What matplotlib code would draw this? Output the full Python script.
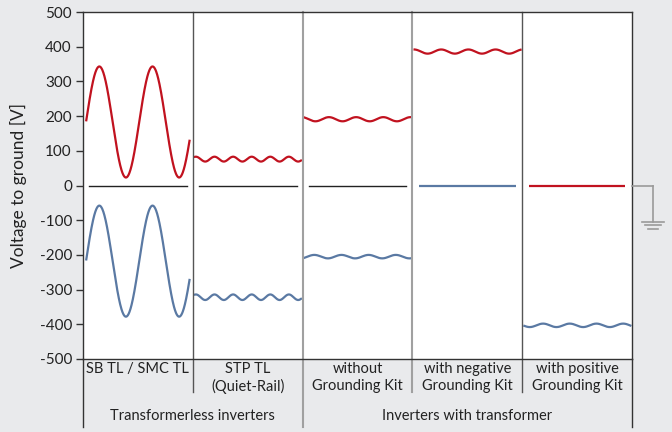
import numpy as np
import matplotlib
matplotlib.use("Agg")
import matplotlib.pyplot as plt

plt.rcParams['font.family'] = ['Lato', 'DejaVu Sans']

# ---- data ----
categories = ["SB TL / SMC TL", "STP TL\n(Quiet-Rail)", "without\nGrounding Kit",
              "with negative\nGrounding Kit", "with positive\nGrounding Kit"]
groups = ["Transformerless inverters", "Inverters with transformer"]
group_spans = [(0, 2), (2, 5)]

pos_offset = [183, 76, 191, 386, 0]      # V, positive pole mean
pos_ripple = [160, 7, 6, 6, 0]           # V, ripple amplitude
neg_offset = [-218, -322, -205, 0, -403] # V, negative pole mean
neg_ripple = [160, 8, 5, 0, 5]
cycles = [1.94, 5.7, 3.9, 3.9, 3.97]     # ripple cycles shown per panel
pos_phase = [-0.245, -0.05, 0.11, 0.02, 0.0]
neg_phase = [-0.245, -0.05, -0.35, 0.0, 0.3]
has_zero_line = [True, True, True, False, False]

yticks = list(range(-500, 501, 100))
ylabel = "Voltage to ground [V]"

RED = "#C1121F"
BLUE = "#5A79A3"
BLACK = "#222222"
BG = "#E9EAEC"

W, H = 672, 432
fig = plt.figure(figsize=(W / 100, H / 100), dpi=100, facecolor=BG)
L, R, T, B = 83, 632, 12, 359
ax = fig.add_axes([L / W, (H - B) / H, (R - L) / W, (B - T) / H])
ax.set_facecolor("white")
ax.set_xlim(0, len(categories))
ax.set_ylim(-500, 500)
ax.set_yticks(yticks)
ax.set_yticklabels([str(v) for v in yticks], fontsize=11, color="#222222")
ax.set_xticks([])
ax.tick_params(axis='y', length=5, width=1, color="#333333", pad=3)
for s in ax.spines.values():
    s.set_color("#333333")
    s.set_linewidth(1)
ax.set_ylabel(ylabel, fontsize=12.5, color="#222222", labelpad=9)

tline = np.linspace(0, 1, 400)

def wave(i, off, amp, ph, color):
    if amp == 0:
        x0, x1 = i + 0.06, i + 0.94
        ax.plot([x0, x1], [off, off], color=color, lw=1.6, solid_capstyle='butt')
    else:
        s, e = (0.03, 0.97) if i == 0 else (0.02, 0.985)
        x = i + s + (e - s) * tline
        y = off + amp * np.cos(2 * np.pi * (ph + cycles[i] * tline))
        ax.plot(x, y, color=color, lw=1.6)

for i in range(len(categories)):
    if has_zero_line[i]:
        ax.plot([i + 0.055, i + 0.945], [0, 0], color=BLACK, lw=1.0)
    wave(i, pos_offset[i], pos_ripple[i], pos_phase[i], RED)
    wave(i, neg_offset[i], neg_ripple[i], neg_phase[i], BLUE)

# panel dividers
tr = ax.get_xaxis_transform()
div_colors = {1: "#555555", 2: "#A0A0A0", 3: "#A0A0A0", 4: "#555555"}
div_widths = {1: 1.0, 2: 1.5, 3: 1.5, 4: 1.0}
group_edges = {e for span in group_spans for e in span}
for k in range(0, len(categories) + 1):
    low = -0.195 if k in group_edges else -0.095
    col = div_colors.get(k, "#333333")
    lw = div_widths.get(k, 1.0)
    ax.plot([k, k], [0 if k in (0, 5) else 1, low], transform=tr, color=col,
            lw=lw, clip_on=False)

# category labels
for i, c in enumerate(categories):
    ax.text(i + 0.5, -0.008, c, transform=tr, ha='center', va='top',
            fontsize=10.5, color="#222222", linespacing=1.3)
# group labels
for g, (a, b) in zip(groups, group_spans):
    ax.text((a + b) / 2, -0.163, g, transform=tr, ha='center', va='center',
            fontsize=10.5, color="#222222")

# ground symbol (decoration, in pixel coordinates)
def px(x, y):
    return x / W, (H - y) / H
GC = "#9A9A9A"
for (xa, ya), (xb, yb), lw in [((632, 185.7), (653, 185.7), 1.2),
                               ((653, 185.7), (653, 221.5), 1.2),
                               ((642, 221.7), (664, 221.7), 1.2),
                               ((645, 225.3), (661, 225.3), 1.2),
                               ((648, 228.9), (658, 228.9), 1.2)]:
    p1, p2 = px(xa, ya), px(xb, yb)
    fig.add_artist(plt.Line2D([p1[0], p2[0]], [p1[1], p2[1]], color=GC, lw=lw))

fig.savefig("out.png", dpi=100, facecolor=BG)
